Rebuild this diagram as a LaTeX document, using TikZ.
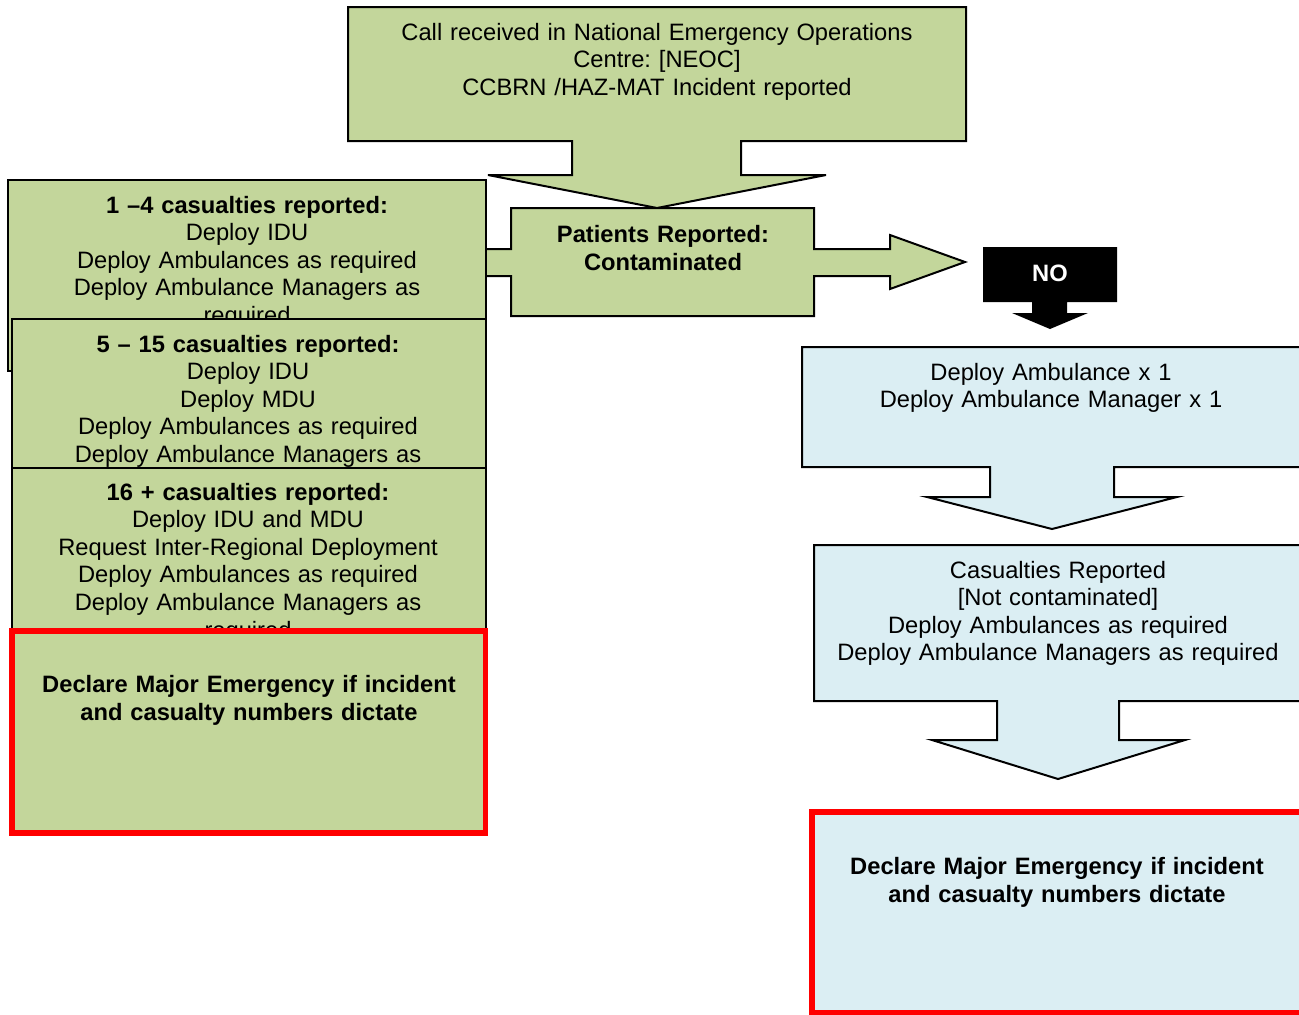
\documentclass[tikz,border=0pt]{standalone}
\usepackage{fontspec}
\setmainfont{Liberation Sans}
\definecolor{gfill}{HTML}{C3D69B}
\definecolor{bfill}{HTML}{DBEEF3}
\frenchspacing
\begin{document}
\begin{tikzpicture}[x=1pt,y=-1pt,
  gbox/.style={fill=gfill,draw=black,line width=2pt,line join=miter},
  bbox/.style={fill=bfill,draw=black,line width=2pt,line join=miter},
  redg/.style={fill=gfill,draw=red,line width=5.5pt},
  redb/.style={fill=bfill,draw=red,line width=5.5pt},
  txt/.style={font=\fontsize{23.7}{27.6}\selectfont,align=center,inner sep=0pt,anchor=base},
  btxt/.style={font=\fontsize{23.7}{28.4}\selectfont\bfseries,align=center,inner sep=0pt,anchor=base},
]
\useasboundingbox (0,0) rectangle (1299,1015);
\clip (0,0) rectangle (1299,1015);

% top callout
\draw[gbox] (348,7) -- (966,7) -- (966,141) -- (741,141) -- (741,175) -- (826,175)
  -- (657,208) -- (488,175) -- (572,175) -- (572,141) -- (348,141) -- cycle;
\node[txt,text width=600pt] (call) at (657,40)
  {Call received in National Emergency Operations\\Centre: [NEOC]\\CCBRN /HAZ-MAT Incident reported};

% patients callout
\draw[gbox] (511,208) -- (814,208) -- (814,249) -- (890,249) -- (890,235) -- (965,262)
  -- (890,289) -- (890,276) -- (814,276) -- (814,316) -- (511,316) -- (511,276)
  -- (470,276) -- (470,249) -- (511,249) -- cycle;
\node[btxt,text width=290pt] (pat) at (663,242) {Patients Reported:\\Contaminated};

% left stack
\draw[gbox] (8,180) rectangle (486,371);
\node[txt,text width=470pt] (c1) at (247,213)
  {\textbf{1 –4 casualties reported:}\\Deploy IDU\\Deploy Ambulances as required\\Deploy Ambulance Managers as\\required};
\draw[gbox] (12,319) rectangle (486,468);
\node[txt,text width=470pt] (c2) at (248,352)
  {\textbf{5 – 15 casualties reported:}\\Deploy IDU\\Deploy MDU\\Deploy Ambulances as required\\Deploy Ambulance Managers as};
\draw[gbox] (12,468) rectangle (486,640);
\node[txt,text width=470pt] (c3) at (248,500)
  {\textbf{16 + casualties reported:}\\Deploy IDU and MDU\\Request Inter-Regional Deployment\\Deploy Ambulances as required\\Deploy Ambulance Managers as\\required};
\draw[redg] (12,631) rectangle (485.5,833);
\node[btxt,text width=460pt] (majL) at (249,692)
  {Declare Major Emergency if incident\\and casualty numbers dictate};

% NO
\fill[black] (983,247) -- (1117,247) -- (1117,302) -- (1067,302) -- (1067,313) -- (1088,313)
  -- (1050,329) -- (1012,313) -- (1032,313) -- (1032,302) -- (983,302) -- cycle;
\node[btxt,text=white,text width=120pt] (no) at (1050,281) {NO};

% right column
\draw[bbox] (802,347) -- (1310,347) -- (1310,467) -- (1114,467) -- (1114,497) -- (1177,497)
  -- (1052,529) -- (927,497) -- (990,497) -- (990,467) -- (802,467) -- cycle;
\node[txt,text width=480pt] (amb) at (1051,380)
  {Deploy Ambulance x 1\\Deploy Ambulance Manager x 1};
\draw[bbox] (814,545) -- (1310,545) -- (1310,701) -- (1119,701) -- (1119,740) -- (1185,740)
  -- (1058,779) -- (932,740) -- (997,740) -- (997,701) -- (814,701) -- cycle;
\node[txt,text width=480pt] (cas) at (1058,578)
  {Casualties Reported\\{[Not contaminated]}\\Deploy Ambulances as required\\Deploy Ambulance Managers as required};
\draw[redb] (812,812) rectangle (1310,1013);
\node[btxt,text width=480pt] (majR) at (1057,874)
  {Declare Major Emergency if incident\\and casualty numbers dictate};
\end{tikzpicture}
\end{document}
